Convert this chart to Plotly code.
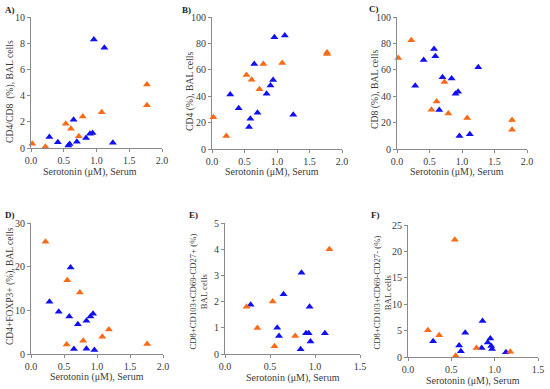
import plotly.graph_objects as go

# ---- data ----
blue_x_abc = [0.28, 0.41, 0.57, 0.59, 0.65, 0.70, 0.84, 0.90, 0.94, 0.96, 1.12, 1.25]
orange_x_abc = [0.02, 0.22, 0.53, 0.61, 0.73, 0.79, 1.08, 1.77, 1.77]

A_blue = [0.84, 0.43, 0.20, 0.30, 2.15, 0.48, 0.76, 1.09, 1.14, 8.28, 7.65, 0.41]
A_orange = [0.33, 0.10, 1.85, 1.47, 0.89, 2.40, 2.73, 4.84, 3.27]
B_blue = [41.2, 30.8, 16.7, 23.0, 64.4, 27.5, 41.9, 48.2, 52.3, 84.6, 85.9, 26.0]
B_orange = [24.0, 9.8, 56.0, 52.5, 45.2, 64.4, 65.2, 73.2, 72.0]
C_blue = [48.0, 67.4, 75.8, 70.2, 29.5, 54.3, 53.5, 41.9, 43.4, 9.8, 11.1, 61.9]
C_orange = [69.0, 82.3, 29.8, 35.9, 50.8, 26.8, 23.5, 22.0, 14.6]

D_blue_x = [0.28, 0.42, 0.58, 0.60, 0.65, 0.71, 0.84, 0.84, 0.90, 0.94, 0.96]
D_blue = [11.96, 9.67, 8.6, 19.8, 1.14, 6.8, 7.6, 1.2, 8.6, 9.2, 0.9]
D_orange_x = [0.22, 0.55, 0.54, 0.74, 0.79, 1.08, 1.18, 1.76]
D_orange = [25.7, 16.9, 2.2, 14.1, 3.05, 3.96, 5.6, 2.3]

E_blue_x = [0.285, 0.58, 0.60, 0.65, 0.84, 0.85, 0.90, 0.93, 0.94, 0.95, 1.11]
E_blue = [1.88, 1.0, 0.69, 2.28, 0.18, 3.1, 0.79, 0.79, 1.8, 0.48, 0.79]
E_orange_x = [0.24, 0.36, 0.53, 0.55, 0.78, 1.16]
E_orange = [1.8, 0.99, 2.0, 0.3, 0.69, 4.0]

F_blue_x = [0.29, 0.59, 0.61, 0.66, 0.85, 0.86, 0.92, 0.95, 0.96, 0.97, 1.13]
F_blue = [2.98, 2.16, 1.08, 4.57, 1.71, 6.8, 2.73, 3.5, 2.1, 1.52, 0.89]
F_orange_x = [0.23, 0.36, 0.54, 0.55, 0.79, 1.18]
F_orange = [5.08, 4.12, 22.2, 0.25, 1.71, 1.0]

panel_labels = ["A)", "B)", "C)", "D)", "E)", "F)"]
y_titles = [
    "CD4/CD8  (%), BAL cells",
    "CD4 (%), BAL cells",
    "CD8 (%), BAL cells",
    "CD4+FOXP3+ (%), BAL cells",
    "CD8+CD103+CD69-CD27+ (%)<br>BAL cells",
    "CD8+CD103+CD69-CD27- (%)<br>BAL cells",
]
x_title = "Serotonin (\u03bcM), Serum"
y_ranges = [10, 100, 100, 30, 5, 25]
y_dticks = [2, 20, 20, 10, 1, 5]
x_ranges = [2.0, 2.0, 2.0, 2.0, 1.5, 1.5]

series = [
    (blue_x_abc, A_blue, orange_x_abc, A_orange),
    (blue_x_abc, B_blue, orange_x_abc, B_orange),
    (blue_x_abc, C_blue, orange_x_abc, C_orange),
    (D_blue_x, D_blue, D_orange_x, D_orange),
    (E_blue_x, E_blue, E_orange_x, E_orange),
    (F_blue_x, F_blue, F_orange_x, F_orange),
]

# ---- layout geometry (pixels) ----
W, H = 550, 389
boxes = [  # x0, x1, ytop, ybottom
    (31, 162, 17, 148),
    (212, 342, 17, 149),
    (397, 527, 17, 149),
    (31, 163, 223, 354),
    (225, 360, 223, 354),
    (408, 538, 225, 357),
]
label_pos = [(10, 10), (186, 10), (374, 9), (10, 215), (193, 215), (375, 215)]
ytitle_pos = [(10, 92), (190, 91), (375, 89), (10, 286), (197.5, 292), (381.5, 293)]
xtitle_pos = [(90, 172), (272, 172), (457, 172), (97, 377), (293, 378), (473, 381)]
ytitle_sizes = [9.7, 9.7, 9.7, 9.5, 8.7, 8.7]

BLUE = "#1010f0"
ORANGE = "#fb6a17"
FONT = "Liberation Serif"
AXC = "#8a8a8a"
TXT = "#3a3a3a"

fig = go.Figure()
layout = dict(
    width=W, height=H, margin=dict(l=0, r=0, t=0, b=0),
    paper_bgcolor="white", plot_bgcolor="white", showlegend=False,
    font=dict(family=FONT, size=10, color=TXT),
)
annotations = []
for i in range(6):
    k = "" if i == 0 else str(i + 1)
    bx, by, ox, oy = series[i]
    for xs, ys, col in ((bx, by, BLUE), (ox, oy, ORANGE)):
        fig.add_trace(go.Scatter(
            x=xs, y=ys, mode="markers", xaxis="x" + k, yaxis="y" + k,
            marker=dict(symbol="triangle-up", size=7, color=col),
            cliponaxis=False,
        ))
    x0, x1, yt, yb = boxes[i]
    ax = dict(
        domain=[x0 / W, x1 / W], anchor="y" + k, range=[0, x_ranges[i]],
        dtick=0.5, tickformat=".1f", showline=True, linecolor=AXC, linewidth=1,
        ticks="outside", ticklen=3, tickcolor=AXC, showgrid=False, zeroline=False,
        tickfont=dict(family=FONT, size=10, color=TXT), automargin=False,
    )
    ay = dict(
        domain=[1 - yb / H, 1 - yt / H], anchor="x" + k, range=[0, y_ranges[i]],
        dtick=y_dticks[i], showline=True, linecolor=AXC, linewidth=1,
        ticks="outside", ticklen=3, tickcolor=AXC, showgrid=False, zeroline=False,
        tickfont=dict(family=FONT, size=10, color=TXT), automargin=False,
    )
    layout["xaxis" + k] = ax
    layout["yaxis" + k] = ay
    tx, ty = ytitle_pos[i]
    annotations.append(dict(
        text=y_titles[i], textangle=-90, xref="paper", yref="paper",
        x=tx / W, y=1 - ty / H, xanchor="center", yanchor="middle",
        showarrow=False, font=dict(family=FONT, size=ytitle_sizes[i], color=TXT),
    ))
    qx, qy = xtitle_pos[i]
    annotations.append(dict(
        text=x_title, xref="paper", yref="paper",
        x=qx / W, y=1 - qy / H, xanchor="center", yanchor="middle",
        showarrow=False, font=dict(family=FONT, size=10, color=TXT),
    ))
    lx, ly = label_pos[i]
    annotations.append(dict(
        text="<b>" + panel_labels[i] + "</b>", xref="paper", yref="paper",
        x=lx / W, y=1 - ly / H, xanchor="center", yanchor="middle",
        showarrow=False, font=dict(family=FONT, size=9, color="#222222"),
    ))
layout["annotations"] = annotations
fig.update_layout(**layout)
fig.write_html("out.html", config={"displayModeBar": False},
               post_script="document.body.style.margin='0';")
